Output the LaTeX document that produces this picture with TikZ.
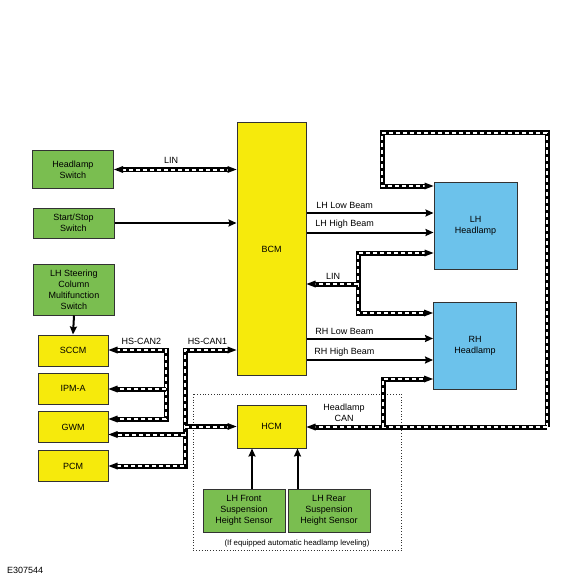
\documentclass[tikz,border=0pt]{standalone}
\usepackage{fontspec}
\setmainfont{Liberation Sans}
\usetikzlibrary{arrows.meta,calc}
\definecolor{gbox}{RGB}{122,190,80}
\definecolor{ybox}{RGB}{246,234,12}
\definecolor{bbox}{RGB}{108,194,235}
\definecolor{edge}{RGB}{50,50,50}
\tikzset{
  box/.style={draw=edge, line width=1pt, minimum width=#1, inner sep=0pt, align=center, font=\fontsize{9}{11}\selectfont},
  gbx/.style={box=81pt, fill=gbox},
  ybx/.style={box=70pt, fill=ybox},
  bbx/.style={box=83pt, fill=bbox},
  wire/.style={line width=2pt, -{Stealth[length=8pt,width=7pt,inset=1pt]}},
  busline/.style={line width=5pt, line join=miter, draw=black},
  busdash/.style={line width=2pt, draw=white, dash pattern=on 4pt off 3pt},
  lbl/.style={font=\fontsize{9}{11}\selectfont, inner sep=0pt, align=center},
}
\newcommand{\bus}[1]{\draw[busline] #1; \draw[busdash] #1;}
\begin{document}
\begin{tikzpicture}[x=1pt,y=-1pt]
\useasboundingbox (0,0) rectangle (580,580);
% dotted box
\draw[dotted, line width=0.8pt, edge] (193,394) rectangle (401.5,550.5);
% nodes
\node[gbx, minimum height=37pt] (hs) at (73,169.5) {Headlamp\\Switch};
\node[gbx, minimum height=30pt] (ss) at (73.5,223) {Start/Stop\\Switch};
\node[gbx, minimum height=51pt] (lsc) at (74,289.5) {LH Steering\\Column\\Multifunction\\Switch};
\node[ybx, minimum height=31pt] (sccm) at (73,350.5) {SCCM};
\node[ybx, minimum height=31pt] (ipm) at (73,388.5) {IPM-A};
\node[ybx, minimum height=31pt] (gwm) at (73,427) {GWM};
\node[ybx, minimum height=31pt] (pcm) at (73,466) {PCM};
\node[box=69pt, fill=ybox, minimum height=252pt] (bcm) at (271.5,249) {BCM};
\node[box=69pt, fill=ybox, minimum height=43pt] (hcm) at (271.5,426.5) {HCM};
\node[gbx, minimum width=82pt, minimum height=43pt] (lfs) at (244,510.5) {LH Front\\Suspension\\Height Sensor};
\node[gbx, minimum width=82pt, minimum height=43pt] (lrs) at (329,510.5) {LH Rear\\Suspension\\Height Sensor};
\node[bbx, minimum height=87pt] (lhh) at (475.5,225.5) {LH\\Headlamp};
\node[bbx, minimum height=87pt] (rhh) at (475,345.5) {RH\\Headlamp};
% coordinates
\coordinate (tl) at (382,133);
\coordinate (tr) at (547,133);
\coordinate (br) at (547,427);
\coordinate (rj) at (383,427);
\coordinate (lj) at (358,284);
\coordinate (c2) at (166,350);
\coordinate (c1) at (185,350);
\coordinate (c1b) at (185,466);
% solid wires
\draw[wire] (ss.east |- 0,223) -- (bcm.west |- 0,223);
\draw[wire] (lsc.south) -- (sccm.north);
\draw[wire] (bcm.east |- 0,213) -- node[lbl, above=3pt, pos=0.3]{LH Low Beam} (lhh.west |- 0,213);
\draw[wire] (bcm.east |- 0,232.5) -- node[lbl, above=3pt, pos=0.3]{LH High Beam} (lhh.west |- 0,232.5);
\draw[wire] (bcm.east |- 0,338.5) -- node[lbl, above=3pt, pos=0.3]{RH Low Beam} (rhh.west |- 0,338.5);
\draw[wire] (bcm.east |- 0,360) -- node[lbl, above=3pt, pos=0.3]{RH High Beam} (rhh.west |- 0,360);
\draw[wire] (lfs.north -| 252,0) -- (hcm.south -| 252,0);
\draw[wire] (lrs.north -| 297.5,0) -- (hcm.south -| 297.5,0);
% buses
% LIN headlamp switch
\bus{($(hs.east |- 0,169.5)+(8,0)$) -- ($(bcm.west |- 0,169.5)+(-8,0)$)}
\fill (hs.east |- 0,169.5) -- ++(9,-3.5) -- ++(0,7) -- cycle;
\fill (bcm.west |- 0,169.5) -- ++(-9,-3.5) -- ++(0,7) -- cycle;
\node[lbl] (linl) at (171,160.5) {LIN};
% top loop
\bus{(br) -- (tr) -- (tl) -- (382,186) -- (426,186)}
\fill (lhh.west |- 0,186) -- ++(-9,-3.5) -- ++(0,7) -- cycle;
% headlamp CAN
\bus{(br) -- (314,427)}
\fill (hcm.east |- 0,427) -- ++(9,-3.5) -- ++(0,7) -- cycle;
\bus{(rj) -- (383,379) -- (426,379)}
\fill (rhh.west |- 0,379) -- ++(-9,-3.5) -- ++(0,7) -- cycle;
\node[lbl] (hcan) at (344,413) {Headlamp\\CAN};
% LIN headlamps
\bus{(426,253) -- (358,253) -- (358,313) -- (426,313)}
\bus{(lj) -- (314,284)}
\fill (lhh.west |- 0,253) -- ++(-9,-3.5) -- ++(0,7) -- cycle;
\fill (rhh.west |- 0,313) -- ++(-9,-3.5) -- ++(0,7) -- cycle;
\fill (bcm.east |- 0,284) -- ++(9,-3.5) -- ++(0,7) -- cycle;
\node[lbl] (lin2) at (333,276) {LIN};
% HS-CAN2
\bus{(116,350) -- (c2) -- (166,419) -- (116,419)}
\bus{(166,389) -- (116,389)}
\fill (sccm.east |- 0,350) -- ++(9,-3.5) -- ++(0,7) -- cycle;
\fill (ipm.east |- 0,389) -- ++(9,-3.5) -- ++(0,7) -- cycle;
\fill (gwm.east |- 0,419) -- ++(9,-3.5) -- ++(0,7) -- cycle;
\node[lbl] (hsc2) at (141.5,341.5) {HS-CAN2};
% HS-CAN1
\bus{(229,350) -- (c1) -- (c1b) -- (116,466)}
\bus{(185,434.5) -- (116,434.5)}
\bus{(185,426.5) -- (229,426.5)}
\fill (bcm.west |- 0,350) -- ++(-9,-3.5) -- ++(0,7) -- cycle;
\fill (hcm.west |- 0,426.5) -- ++(-9,-3.5) -- ++(0,7) -- cycle;
\fill (gwm.east |- 0,434.5) -- ++(9,-3.5) -- ++(0,7) -- cycle;
\fill (pcm.east |- 0,466) -- ++(9,-3.5) -- ++(0,7) -- cycle;
\node[lbl] (hsc1) at (207.5,341.5) {HS-CAN1};
% texts
\node[lbl, font=\fontsize{7.8}{9}\selectfont] (note) at (297,543) {(If equipped automatic headlamp leveling)};
\node[lbl, anchor=west] (code) at (7,570.5) {E307544};
\end{tikzpicture}
\end{document}
